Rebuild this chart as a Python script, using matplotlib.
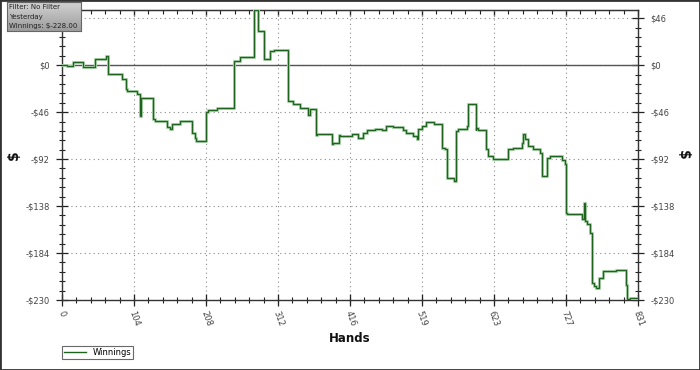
import matplotlib
matplotlib.use('Agg')
import matplotlib.pyplot as plt
from matplotlib.patches import Rectangle
from matplotlib.ticker import MultipleLocator
import numpy as np

# ---- data (hand index, cumulative winnings in $) ----
hands = [0, 7, 16, 30, 48, 63, 66, 86, 92, 94, 108, 113, 114, 132, 134, 151, 156, 158,
         170, 187, 192, 194, 208, 211, 223, 228, 248, 257, 277, 283, 292, 300, 306, 326,
         333, 343, 355, 358, 366, 368, 389, 391, 399, 401, 418, 427, 434, 440, 452, 461,
         468, 478, 492, 497, 507, 512, 514, 519, 525, 536, 548, 553, 555, 566, 568, 571,
         584, 586, 597, 598, 600, 612, 615, 622, 644, 651, 663, 665, 668, 673, 680, 690,
         692, 700, 704, 721, 726, 727, 729, 750, 753, 754, 757, 762, 765, 767, 771, 775,
         780, 799, 813, 815, 820, 831]
winnings = [0, -1, 3, -2, 6, 8.5, -9, -14, -23, -25, -28, -50, -32, -53, -55, -61, -63, -58,
            -55, -66, -71, -74, -46, -44, -41.5, -42, 4, 7.5, 54, 33.6, 6.5, 14, 15, -35,
            -38, -42, -49, -43, -68, -67, -77.5, -76, -68, -69.5, -67, -71, -66, -64, -63, -64,
            -59.5, -61, -64, -66, -69, -72, -63, -59.5, -56, -57.5, -80.7, -82, -111, -113, -64.4, -63,
            -60, -38, -64, -62, -64, -82, -89, -92, -82, -80.7, -76, -67, -72, -79, -82, -86,
            -108.5, -90.5, -89, -93, -97, -144.4, -146, -151, -134.6, -153, -156, -164, -213, -216, -218, -208,
            -202, -201, -215, -229, -228, -228]

x_ticks = [0, 104, 208, 312, 416, 519, 623, 727, 831]
y_ticks = [-230, -184, -138, -92, -46, 0, 46]
y_tick_labels = ['-$230', '-$184', '-$138', '-$92', '-$46', '$0', '$46']
info_lines = ['Filter: No Filter', 'Yesterday', 'Winnings: $-228.00']
series_name = 'Winnings'

W, H = 700, 370
fig = plt.figure(figsize=(W / 100, H / 100), dpi=100)
fig.patch.set_facecolor('white')

ax = fig.add_axes([62 / W, 70 / H, 576 / W, 290 / H])
ax.set_xlim(0, 831)
ax.set_ylim(-230, 54)

# grid
ax.grid(which='major', linestyle=(0, (1, 3)), color='#8a8a8a', lw=0.8)
ax.axhline(0, color='#555555', lw=1.0, zorder=2)

# line with light halo
ax.plot(hands, winnings, drawstyle='steps-post', color='#b9dcb9', lw=2.2, zorder=3,
        solid_joinstyle='miter')
ln, = ax.plot(hands, winnings, drawstyle='steps-post', color='#1e641e', lw=1.0, zorder=4,
              label=series_name, solid_joinstyle='miter')

# ticks
ax.set_xticks(x_ticks)
ax.set_xticklabels([str(t) for t in x_ticks], rotation=-70, fontsize=6, color='#444444')
ax.xaxis.set_minor_locator(MultipleLocator(831 / 40))
ax.set_yticks(y_ticks)
ax.set_yticklabels(y_tick_labels, fontsize=6, color='#444444')
ax.yaxis.set_minor_locator(MultipleLocator(46 / 5))
ax.tick_params(axis='both', which='major', direction='inout', length=8, width=0.9, color='#222222')
ax.tick_params(axis='both', which='minor', direction='inout', length=5, width=0.8, color='#222222')
ax.tick_params(axis='y', which='both', left=True, right=True, labelleft=True, labelright=True)
ax.tick_params(axis='y', which='major', pad=5)
ax.tick_params(axis='x', which='major', pad=3)
# the top-left label is hidden behind the info box in the reference
ax.yaxis.get_major_ticks()[-1].label1.set_visible(False)

top = ax.secondary_xaxis('top')
top.set_xticks(x_ticks)
top.set_xticklabels([])
top.xaxis.set_minor_locator(MultipleLocator(831 / 40))
top.tick_params(which='major', direction='in', length=4, width=0.9, color='#222222')
top.tick_params(which='minor', direction='in', length=3, width=0.8, color='#222222')
top.spines['top'].set_color('#333333')

for s in ax.spines.values():
    s.set_color('#333333')
    s.set_linewidth(1.0)

# axis labels
fig.text(350 / W, 1 - 338 / H, 'Hands', ha='center', va='center', fontsize=8.5, fontweight='bold',
         color='#111111')
fig.text(14 / W, 1 - 155 / H, '$', ha='center', va='center', fontsize=10, fontweight='bold',
         rotation=90, color='#111111')
fig.text(683 / W, 1 - 155 / H, '$', ha='center', va='center', fontsize=10, fontweight='bold',
         rotation=-90, color='#111111')

# info box with gradient
bx = fig.add_axes([7 / W, 1 - 31 / H, 74 / W, 29 / H], zorder=10)
grad = np.linspace(0, 1, 64).reshape(-1, 1)
bx.imshow(grad, aspect='auto', cmap=matplotlib.colors.LinearSegmentedColormap.from_list(
    'g', ['#d2d2d2', '#9c9c9c']), extent=[0, 1, 0, 1], origin='upper')
bx.set_xlim(0, 1)
bx.set_ylim(0, 1)
bx.set_xticks([])
bx.set_yticks([])
for s in bx.spines.values():
    s.set_color('#666666')
    s.set_linewidth(0.8)
for i, t in enumerate(info_lines):
    bx.text(0.03, 0.83 - i * 0.33, t, transform=bx.transAxes, fontsize=5.0, color='#222222',
            ha='left', va='center')

# legend
leg = fig.legend(handles=[ln], loc='lower left', bbox_to_anchor=(62 / W, 1 - 359 / H),
                 fontsize=6, frameon=True, fancybox=False, edgecolor='#444444',
                 handlelength=2.6, borderpad=0.25, handletextpad=0.8, borderaxespad=0)
leg.get_frame().set_linewidth(0.8)

# figure border
fig.add_artist(Rectangle((0, 0), 1, 1, transform=fig.transFigure, fill=False,
                         edgecolor='#333333', lw=2.0))

fig.savefig('out.png', dpi=100)
